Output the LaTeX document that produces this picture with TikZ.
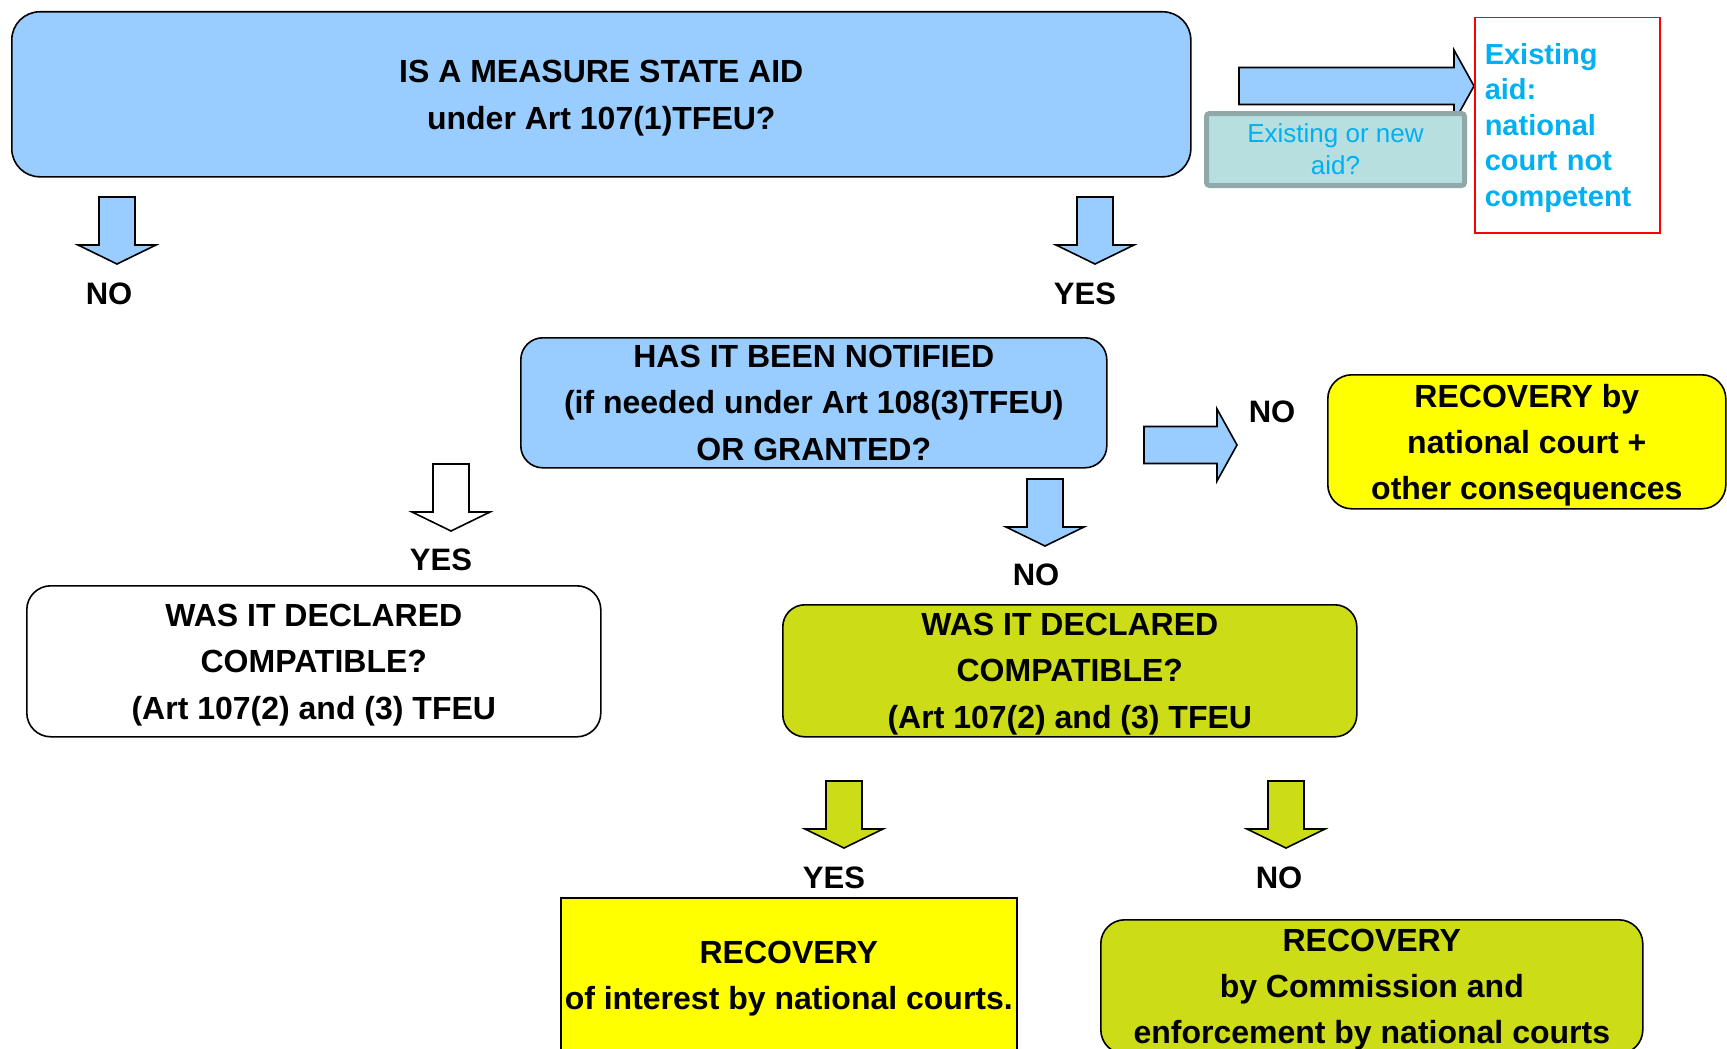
\documentclass[tikz,border=0pt]{standalone}
\usepackage{fontspec}
\setmainfont{Liberation Sans}
\definecolor{blueF}{HTML}{99CCFF}
\definecolor{greenF}{HTML}{CCDD18}
\definecolor{yellowF}{HTML}{FFFF00}
\definecolor{tealF}{HTML}{B8DFE0}
\definecolor{tealD}{HTML}{8FA9A9}
\definecolor{cyanT}{HTML}{00B0F0}
\newcommand\DArr[3]{\draw[blk,fill=#3] (#1-18,#2) -- (#1+18,#2) -- (#1+18,#2+48) -- (#1+39,#2+48) -- (#1,#2+67) -- (#1-39,#2+48) -- (#1-18,#2+48) -- cycle;}
\newcommand\RArr[4]{\draw[blk,fill=#4] (#1,#2-18.5) -- (#3-20,#2-18.5) -- (#3-20,#2-36) -- (#3,#2) -- (#3-20,#2+36) -- (#3-20,#2+18.5) -- (#1,#2+18.5) -- cycle;}
\newcommand\ts[1]{\rule{0pt}{\dimexpr 23.4pt+#1pt\relax}}
\begin{document}
\begin{tikzpicture}[x=1pt,y=-1pt,
  bx/.style={draw=black,line width=1.6pt,rounded corners=24pt,anchor=north west,inner sep=0pt,align=center,font=\fontsize{32}{46.3}\selectfont\bfseries},
  lbl/.style={font=\fontsize{31}{37}\selectfont\bfseries,inner sep=0pt},
  blk/.style={draw=black,line width=1.6pt,line join=miter}]
\useasboundingbox (0,0) rectangle (1727,1049);
\clip (0,0) rectangle (1727,1049);

% top question
\node[bx,fill=blueF,minimum width=1179pt,minimum height=165pt,rounded corners=28pt] (q1) at (11,11) {\ts{6.6}IS A MEASURE STATE AID\\under Art 107(1)TFEU?};

% existing / new aid
\RArr{1239}{86}{1474}{blueF}
\node[draw=tealD,fill=tealF,line width=5pt,rounded corners=3pt,anchor=north west,minimum width=258pt,minimum height=72pt,inner sep=0pt,align=center,text=cyanT,font=\fontsize{26}{32}\selectfont] (eon) at (1204,111) {Existing or new\\aid?};
\node[draw=red,line width=1.5pt,anchor=north west,minimum width=185pt,minimum height=215pt,text width=165pt,inner xsep=10pt,inner ysep=0pt,align=left,text=cyanT,font=\fontsize{29}{35.6}\selectfont\bfseries] (exist) at (1474,17) {\rule{0pt}{26pt}Existing\\aid:\\national\\court not\\competent};

% first level arrows
\DArr{117}{197}{blueF}
\node[lbl] (no1) at (109,294) {NO};
\DArr{1095}{197}{blueF}
\node[lbl] (yes1) at (1085,294) {YES};

% notified
\node[bx,fill=blueF,minimum width=586pt,minimum height=130pt,rounded corners=22pt] (q2) at (520,337) {HAS IT BEEN NOTIFIED\\(if needed under Art 108(3)TFEU)\\OR GRANTED?};

\RArr{1144}{445}{1237}{blueF}
\node[lbl] (no2) at (1272,412) {NO};
\node[bx,fill=yellowF,minimum width=398pt,minimum height=134pt,rounded corners=24pt] (rec1) at (1327,374) {\ts{6.6}RECOVERY by\\national court +\\other consequences};

\DArr{451}{464}{white}
\node[lbl] (yes2) at (441,560) {YES};
\node[bx,fill=white,minimum width=574pt,minimum height=151pt,rounded corners=24pt] (q3) at (26,585) {\ts{6.6}WAS IT DECLARED\\COMPATIBLE?\\(Art 107(2) and (3) TFEU};

\DArr{1045}{479}{blueF}
\node[lbl] (no3) at (1036,575) {NO};
\node[bx,fill=greenF,minimum width=574pt,minimum height=132pt,rounded corners=22pt] (q4) at (782,604) {\ts{5.5}WAS IT DECLARED\\COMPATIBLE?\\(Art 107(2) and (3) TFEU};

\DArr{844}{781}{greenF}
\node[lbl] (yes4) at (834,878) {YES};
\DArr{1286}{781}{greenF}
\node[lbl] (no4) at (1279,878) {NO};

\node[bx,fill=yellowF,sharp corners,minimum width=456pt,minimum height=158pt] (rec2) at (560,897) {\ts{3.3}RECOVERY\\of interest by national courts.};
\node[bx,fill=greenF,minimum width=542pt,minimum height=134pt,rounded corners=24pt] (rec3) at (1100,919) {\ts{4.4}RECOVERY\\by Commission and\\enforcement by national courts};
\end{tikzpicture}
\end{document}
